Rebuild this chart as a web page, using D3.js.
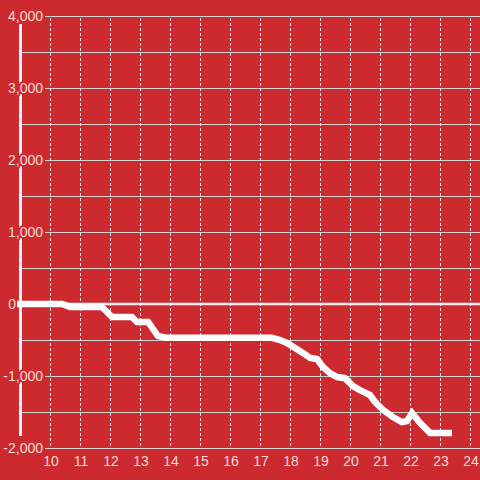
<!DOCTYPE html>
<html>
<head>
<meta charset="UTF-8">
<script src="https://cdn.jsdelivr.net/npm/d3@7"></script>
<style>
  body { margin: 0; background: #cc2a2f; }
  text { font-family: "Liberation Sans", Arial, sans-serif; font-size: 14px; fill: #f4dcdc; }
</style>
</head>
<body>
<div id="chart"></div>
<script>
// hour of day
var hours = [8.9, 10.4, 10.67, 11.73, 12.07, 12.73, 12.9, 13.27, 13.6, 13.9, 17.4, 17.67, 17.9,
  18.17, 18.43, 18.67, 18.9, 19.1, 19.33, 19.57, 19.83, 20.1, 20.33, 20.67, 20.83, 21.1,
  21.43, 21.73, 21.9, 22.07, 22.33, 22.67, 23.4];
var values = [0, 0, -40, -40, -180, -180, -250, -250, -445, -470, -470, -500, -540,
  -610, -680, -750, -765, -875, -960, -1015, -1030, -1140, -1195, -1265, -1360, -1470,
  -1570, -1640, -1625, -1515, -1650, -1790, -1790];
var xTicks = [10, 11, 12, 13, 14, 15, 16, 17, 18, 19, 20, 21, 22, 23, 24];
var yMajor = [-2000, -1000, 0, 1000, 2000, 3000, 4000];
var yMinor = [-1500, -500, 500, 1500, 2500, 3500];

var W = 480, H = 480;
var svg = d3.select('#chart').append('svg').attr('width', W).attr('height', H);
svg.append('rect').attr('width', W).attr('height', H).attr('fill', '#cc2a2f');

var x = d3.scaleLinear().domain([10, 24]).range([50, 470]);
var y = d3.scaleLinear().domain([-2000, 4000]).range([448, 16]);

// minor grid
svg.selectAll('.minor').data(yMinor).enter().append('line')
  .attr('x1', 22).attr('x2', W)
  .attr('y1', function(d){ return y(d) + 0.5; }).attr('y2', function(d){ return y(d) + 0.5; })
  .attr('stroke', '#d2d2d2').attr('stroke-width', 1.2);
// major grid
svg.selectAll('.major').data(yMajor).enter().append('line')
  .attr('x1', 45).attr('x2', W)
  .attr('y1', function(d){ return y(d) + 0.5; }).attr('y2', function(d){ return y(d) + 0.5; })
  .attr('stroke', '#d2d2d2').attr('stroke-width', 1.2);
// vertical dashed grid
svg.selectAll('.vgrid').data(xTicks).enter().append('line')
  .attr('x1', function(d){ return x(d) + 0.5; }).attr('x2', function(d){ return x(d) + 0.5; })
  .attr('y1', 18).attr('y2', 447)
  .attr('stroke', '#e0e0e0').attr('stroke-width', 1).attr('stroke-dasharray', '3,2');

// y axis bar
svg.append('line').attr('x1', 20.5).attr('x2', 20.5).attr('y1', 24).attr('y2', 436)
  .attr('stroke', '#f5f5f5').attr('stroke-width', 3);

// zero line
svg.append('line').attr('x1', 45).attr('x2', W).attr('y1', y(0)).attr('y2', y(0))
  .attr('stroke', '#f8f0f0').attr('stroke-width', 2.5);

// data line
var line = d3.line().x(function(d, i){ return x(hours[i]); }).y(function(d){ return y(d); });
svg.append('path').datum(values).attr('d', line)
  .attr('fill', 'none').attr('stroke', '#fff').attr('stroke-width', 6.5)
  .attr('stroke-linejoin', 'miter');

// y labels (zero label sits left of the axis bar)
svg.selectAll('.ylab').data(yMajor).enter().append('text')
  .attr('x', function(d){ return d === 0 ? 16 : 43; })
  .attr('y', function(d){ return y(d); }).attr('dy', '0.35em')
  .attr('text-anchor', 'end')
  .attr('stroke', '#cc2a2f')
  .attr('stroke-width', function(d){ return d === 0 ? 0 : 4; })
  .attr('paint-order', 'stroke')
  .text(function(d){ return d3.format(',')(d).replace('−', '-'); });

// x labels
svg.selectAll('.xlab').data(xTicks).enter().append('text')
  .attr('x', function(d){ return x(d) + 1; }).attr('y', 466)
  .attr('text-anchor', 'middle')
  .text(function(d){ return d; });
</script>
</body>
</html>
